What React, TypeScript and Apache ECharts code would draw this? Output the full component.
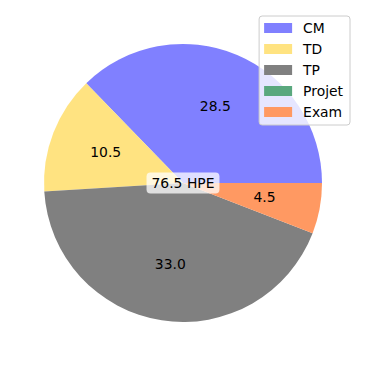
import React, { useEffect, useRef } from "react";
import * as echarts from "echarts";

const categories = ["CM", "TD", "TP", "Projet", "Exam"];
const values = [28.5, 10.5, 33.0, 0, 4.5];
const colors = ["#8080ff", "#ffe381", "#808080", "#5aa87e", "#ff9962"];
const totalLabel = "76.5 HPE";

export default function App() {
  const ref = useRef<HTMLDivElement>(null);
  useEffect(() => {
    if (!ref.current) return;
    const chart = echarts.init(ref.current, null, { renderer: "svg" });
    const R = 139;
    const FS = 13.9;
    const data = categories.map((name, i) => ({
      name,
      value: values[i],
      itemStyle: { color: colors[i] },
    }));
    chart.setOption({
      animation: false,
      textStyle: { fontFamily: "DejaVu Sans" },
      legend: {
        orient: "vertical",
        right: 16,
        top: 16,
        data: categories,
        itemWidth: 28,
        itemHeight: 10,
        itemGap: 7,
        backgroundColor: "rgba(255,255,255,0.8)",
        borderColor: "#cccccc",
        borderWidth: 1,
        borderRadius: 3,
        padding: [5, 7, 6, 5],
        icon: "rect",
        textStyle: {
          fontSize: FS,
          lineHeight: 14,
          color: "#000",
          fontFamily: "DejaVu Sans",
          padding: [0, 0, 0, 6],
        },
        selectedMode: false,
      },
      series: [
        {
          type: "pie",
          center: [183, 183],
          radius: [0, R],
          startAngle: 0,
          clockwise: false,
          silent: true,
          label: { show: false },
          labelLine: { show: false },
          itemStyle: { borderWidth: 0 },
          emphasis: { disabled: true },
          data,
        },
        {
          type: "pie",
          center: [183, 182],
          radius: [R * 0.15, R],
          startAngle: 0,
          clockwise: false,
          silent: true,
          legendHoverLink: false,
          itemStyle: { color: "transparent", borderWidth: 0 },
          emphasis: { disabled: true },
          label: {
            show: true,
            position: "inside",
            fontSize: FS,
            color: "#000",
            fontFamily: "DejaVu Sans",
            formatter: (p: any) => (p.value > 0 ? Number(p.value).toFixed(1) : ""),
          },
          labelLine: { show: false },
          data: categories.map((name, i) => ({ name, value: values[i] })),
        },
      ],
      graphic: [
        {
          type: "text",
          x: 183,
          y: 183,
          z: 100,
          style: {
            text: totalLabel,
            fontSize: FS,
            fontFamily: "DejaVu Sans",
            fill: "#000",
            align: "center",
            verticalAlign: "middle",
            backgroundColor: "rgba(255,255,255,0.75)",
            borderRadius: 4,
            padding: [4, 5, 3, 5],
          },
        },
      ],
    });
    return () => chart.dispose();
  }, []);
  return (
    <div
      ref={ref}
      style={{ position: "absolute", left: 0, top: 0, width: 366, height: 366 }}
    />
  );
}
